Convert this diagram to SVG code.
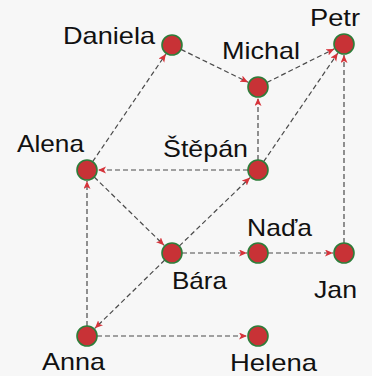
<svg xmlns="http://www.w3.org/2000/svg" width="372" height="376" viewBox="0 0 372 376">
<defs>
<marker id="arr" markerUnits="userSpaceOnUse" markerWidth="10" markerHeight="8" refX="8" refY="3.5" orient="auto">
<path d="M0,0 L8,3.5 L0,7 L2,3.5 z" fill="#d6333a"/>
</marker>
<style>
.e{stroke:#4a4a4a;stroke-width:1.2;stroke-dasharray:5 3;fill:none;marker-end:url(#arr)}
.n{fill:#c83236;stroke:#2e7d3a;stroke-width:1.6}
.t{font-family:"Liberation Sans",Arial,sans-serif;font-size:24px;fill:#111}
</style>
</defs>
<rect width="372" height="376" fill="#f7f7f7"/>
<g id="edges">
<line class="e" x1="92.6" y1="161.7" x2="165.8" y2="54.1"/>
<line class="e" x1="181" y1="49.4" x2="248.1" y2="82.2"/>
<line class="e" x1="266.9" y1="82.5" x2="334.2" y2="48.9"/>
<line class="e" x1="263.6" y1="161.7" x2="337.8" y2="53.1"/>
<line class="e" x1="258" y1="160" x2="258" y2="98"/>
<line class="e" x1="248" y1="170" x2="98" y2="170"/>
<line class="e" x1="344" y1="243" x2="344" y2="55"/>
<line class="e" x1="94.2" y1="177" x2="164.1" y2="245.3"/>
<line class="e" x1="179.2" y1="246.1" x2="250.1" y2="177.6"/>
<line class="e" x1="182" y1="253" x2="247" y2="253"/>
<line class="e" x1="268" y1="253" x2="333" y2="253"/>
<line class="e" x1="164.8" y1="260" x2="94.9" y2="328.3"/>
<line class="e" x1="87" y1="326" x2="87" y2="181"/>
<line class="e" x1="97" y1="336" x2="247" y2="336"/>
</g>
<g id="daniela"><circle class="n" cx="172" cy="45" r="10"/><text class="t" x="63" y="44" textLength="92" lengthAdjust="spacingAndGlyphs">Daniela</text></g>
<g id="michal"><circle class="n" cx="258" cy="87" r="10"/><text class="t" x="222" y="59" textLength="78" lengthAdjust="spacingAndGlyphs">Michal</text></g>
<g id="petr"><circle class="n" cx="344" cy="44" r="10"/><text class="t" x="310" y="26" textLength="50" lengthAdjust="spacingAndGlyphs">Petr</text></g>
<g id="alena"><circle class="n" cx="87" cy="170" r="10"/><text class="t" x="17" y="152" textLength="67" lengthAdjust="spacingAndGlyphs">Alena</text></g>
<g id="stepan"><circle class="n" cx="258" cy="170" r="10"/><text class="t" x="163" y="157" textLength="85" lengthAdjust="spacingAndGlyphs">Štěpán</text></g>
<g id="bara"><circle class="n" cx="172" cy="253" r="10"/><text class="t" x="172" y="289" textLength="55" lengthAdjust="spacingAndGlyphs">Bára</text></g>
<g id="nada"><circle class="n" cx="258" cy="253" r="10"/><text class="t" x="247" y="236" textLength="65" lengthAdjust="spacingAndGlyphs">Naďa</text></g>
<g id="jan"><circle class="n" cx="344" cy="253" r="10"/><text class="t" x="314" y="298" textLength="43" lengthAdjust="spacingAndGlyphs">Jan</text></g>
<g id="anna"><circle class="n" cx="87" cy="336" r="10"/><text class="t" x="42" y="370" textLength="63" lengthAdjust="spacingAndGlyphs">Anna</text></g>
<g id="helena"><circle class="n" cx="258" cy="336" r="10"/><text class="t" x="230" y="371" textLength="87" lengthAdjust="spacingAndGlyphs">Helena</text></g>
</svg>
